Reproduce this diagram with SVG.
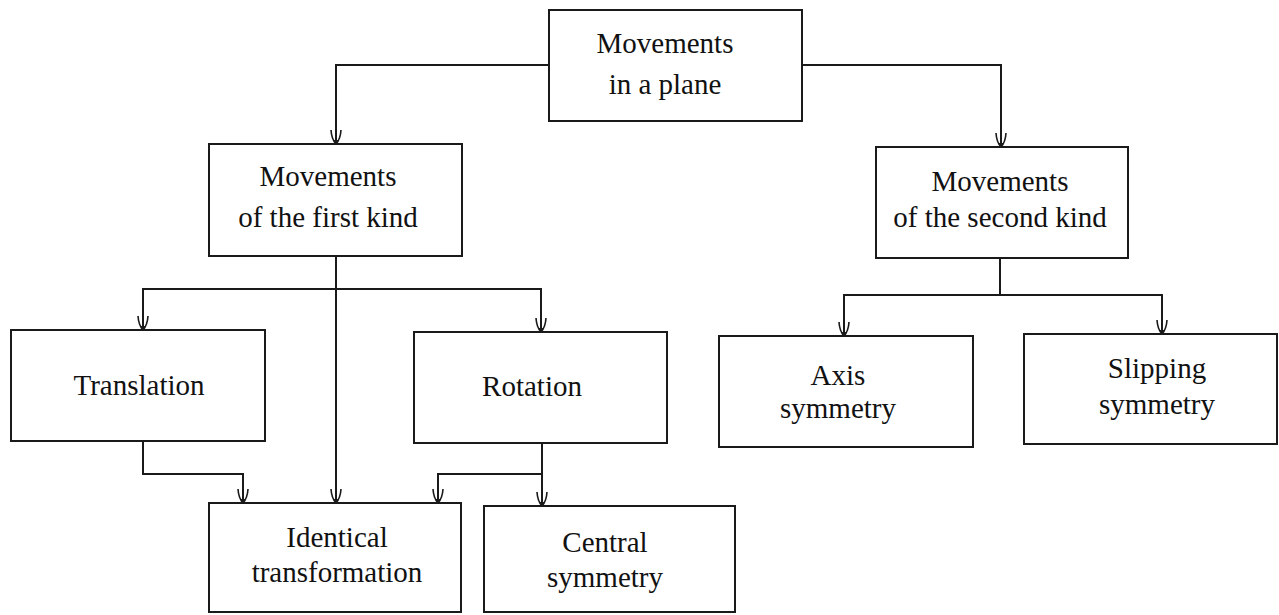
<svg xmlns="http://www.w3.org/2000/svg" width="1279" height="615" viewBox="0 0 1279 615">
<style>
  .box { fill: #ffffff; stroke: #1a1a1a; stroke-width: 2; }
  .lbl { font-family: "Liberation Serif", "Times New Roman", serif; font-size: 29px; fill: #111; text-anchor: middle; }
  .conn path { fill: none; stroke: #1a1a1a; stroke-width: 2; }
  .conn path.arr { marker-end: url(#arrow); }
</style>
<defs>
  <marker id="arrow" markerUnits="userSpaceOnUse" viewBox="-16 -8 18 16" refX="0" refY="0" markerWidth="18" markerHeight="16" orient="auto" overflow="visible">
    <path d="M-14,-5 Q-5,-4.5 0,0 Q-5,4.5 -14,5" fill="none" stroke="#1a1a1a" stroke-width="1.6"/>
    <path d="M-4,-2.5 L0,0 L-4,2.5 Z" fill="#1a1a1a"/>
  </marker>
</defs>
<rect width="1279" height="615" fill="#ffffff"/>
<g class="conn" id="connectors">
  <path class="arr" d="M549,65 H336 V144"/>
  <path class="arr" d="M802,65 H1001 V147"/>
  <path class="arr" d="M336,256 V503"/>
  <path class="arr" d="M336,289 H143 V330"/>
  <path class="arr" d="M336,289 H541 V332"/>
  <path class="arr" d="M143,441 V474 H243 V503"/>
  <path class="arr" d="M542,443 V506"/>
  <path class="arr" d="M542,474 H438 V503"/>
  <path d="M1000,258 V295"/>
  <path class="arr" d="M1000,295 H844 V336"/>
  <path class="arr" d="M1000,295 H1162 V334"/>
</g>
<g id="node-plane">
  <rect class="box" x="549" y="10" width="253" height="111"/>
  <text class="lbl" x="665" y="53">Movements</text>
  <text class="lbl" x="665" y="94">in a plane</text>
</g>
<g id="node-first">
  <rect class="box" x="209" y="144" width="253" height="112"/>
  <text class="lbl" x="328" y="186">Movements</text>
  <text class="lbl" x="328" y="227">of the first kind</text>
</g>
<g id="node-second">
  <rect class="box" x="876" y="147" width="252" height="111"/>
  <text class="lbl" x="1000" y="191">Movements</text>
  <text class="lbl" x="1000" y="227">of the second kind</text>
</g>
<g id="node-translation">
  <rect class="box" x="11" y="330" width="254" height="111"/>
  <text class="lbl" x="139" y="395">Translation</text>
</g>
<g id="node-rotation">
  <rect class="box" x="414" y="332" width="253" height="111"/>
  <text class="lbl" x="532" y="396">Rotation</text>
</g>
<g id="node-axis">
  <rect class="box" x="719" y="336" width="254" height="111"/>
  <text class="lbl" x="838" y="385">Axis</text>
  <text class="lbl" x="838" y="418">symmetry</text>
</g>
<g id="node-slipping">
  <rect class="box" x="1024" y="334" width="253" height="110"/>
  <text class="lbl" x="1157" y="378">Slipping</text>
  <text class="lbl" x="1157" y="414">symmetry</text>
</g>
<g id="node-identical">
  <rect class="box" x="209" y="503" width="252" height="109"/>
  <text class="lbl" x="337" y="547">Identical</text>
  <text class="lbl" x="337" y="582">transformation</text>
</g>
<g id="node-central">
  <rect class="box" x="484" y="506" width="251" height="106"/>
  <text class="lbl" x="605" y="552">Central</text>
  <text class="lbl" x="605" y="587">symmetry</text>
</g>
</svg>
